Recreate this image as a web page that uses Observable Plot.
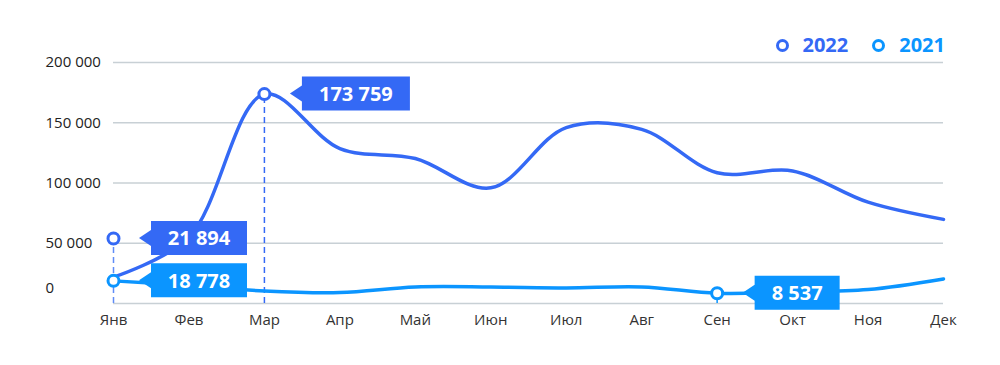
<!DOCTYPE html>
<html>
<head>
<meta charset="utf-8">
<script src="https://cdn.jsdelivr.net/npm/d3@7"></script>
<script src="https://cdn.jsdelivr.net/npm/@observablehq/plot@0.6"></script>
<style>
  html, body { margin: 0; padding: 0; background: #fff; }
  body { width: 1000px; height: 365px; position: relative; overflow: hidden; font-family: "Open Sans", sans-serif; }
  #legend { position: absolute; top: 33px; right: 55px; display: flex; align-items: center; font-weight: 700; font-size: 20px; line-height: 24px; }
  #legend .item { display: flex; align-items: center; margin-left: 24px; }
  #legend .sw { width: 7px; height: 7px; border-radius: 50%; border: 3.5px solid; margin-right: 14px; box-sizing: content-box; }
  #chart { position: absolute; left: 0; top: 0; }
</style>
</head>
<body>
<div id="chart"></div>
<div id="legend"></div>
<script>
const months = ["Янв","Фев","Мар","Апр","Май","Июн","Июл","Авг","Сен","Окт","Ноя","Дек"];
const values2022 = [21894, 55000, 173759, 128600, 120300, 96000, 146000, 144500, 108500, 110000, 84100, 69800];
const values2021 = [18778, 15000, 10400, 9100, 13700, 13700, 12900, 13700, 8537, 9600, 11600, 20400];
const seriesNames = ["2022", "2021"];
const seriesColors = ["#3469F5", "#0B95FF"];
const yTicks = [0, 50000, 100000, 150000, 200000];
const yTickLabels = ["0", "50 000", "100 000", "150 000", "200 000"];
// highlighted points (callouts)
const calloutSeries = ["2022", "2022", "2021", "2021"];
const calloutMonth = ["Мар", "Янв", "Янв", "Сен"];
const calloutValue = [173759, 54000, 18778, 8537];
const calloutLabel = ["173 759", "21 894", "18 778", "8 537"];

const colorOf = Object.fromEntries(seriesNames.map((s, i) => [s, seriesColors[i]]));
const rows = [
  ...months.map((m, i) => ({month: m, value: values2022[i], series: "2022"})),
  ...months.map((m, i) => ({month: m, value: values2021[i], series: "2021"}))
];
const callouts = calloutSeries.map((s, i) => ({series: s, month: calloutMonth[i], value: calloutValue[i], label: calloutLabel[i]}));
const yLabelRows = yTicks.map((v, i) => ({value: v, label: yTickLabels[i]}));

const canvas = document.createElement("canvas");
const ctx = canvas.getContext("2d");
ctx.font = "700 20px 'Open Sans'";

function calloutMark(index, scales) {
  const g = d3.create("svg:g");
  for (const c of callouts) {
    const px = scales.x(c.month);
    const py = scales.y(c.value);
    const tw = ctx.measureText(c.label).width;
    const w = Math.round(tw + 34);
    const h = 34;
    const left = px + 38;
    const col = colorOf[c.series];
    g.append("path")
      .attr("d", `M${left - 12},${py} L${left},${py - 8} L${left},${py - h / 2} L${left + w},${py - h / 2} L${left + w},${py + h / 2} L${left},${py + h / 2} L${left},${py + 8} Z`)
      .attr("fill", col);
    g.append("text")
      .attr("x", left + w / 2)
      .attr("y", py)
      .attr("dy", "0.36em")
      .attr("text-anchor", "middle")
      .attr("fill", "#fff")
      .attr("font-size", 20)
      .attr("font-weight", 700)
      .attr("font-family", "'Open Sans', sans-serif")
      .text(c.label);
  }
  return g.node();
}

const chart = Plot.plot({
  width: 1000,
  height: 365,
  marginLeft: 113,
  marginRight: 57,
  marginTop: 62,
  marginBottom: 62,
  style: {fontFamily: "'Open Sans', sans-serif", background: "transparent"},
  x: {type: "point", domain: months, padding: 0, round: false, axis: null},
  y: {domain: [0, 200000], axis: null},
  color: {domain: seriesNames, range: seriesColors},
  marks: [
    Plot.ruleY(yTicks, {stroke: "#c8d0d5", strokeWidth: 1.5}),
    Plot.text(yLabelRows.filter(d => d.value !== 0), {y: "value", text: "label", frameAnchor: "left", textAnchor: "start", dx: -68, fontSize: 15, fill: "#222"}),
    Plot.text(yLabelRows.filter(d => d.value === 0), {y: "value", text: "label", frameAnchor: "left", textAnchor: "start", dx: -68, dy: -15, fontSize: 15, fill: "#222"}),
    Plot.text(months, {x: d => d, text: d => d, frameAnchor: "bottom", dy: 21, fontSize: 15, fill: "#333"}),
    Plot.ruleX(callouts.filter(c => c.series === "2022" && c.month === "Янв"), {x: "month", y1: 0, y2: "value", stroke: "#5f8cf7", strokeWidth: 1.5, strokeDasharray: "6,4"}),
    Plot.ruleX(callouts.filter(c => c.month === "Мар"), {x: "month", y1: 0, y2: "value", stroke: colorOf["2022"], strokeWidth: 1.5, strokeDasharray: "6,4"}),
    Plot.ruleX(callouts.filter(c => c.month === "Сен"), {x: "month", y1: 0, y2: "value", stroke: colorOf["2021"], strokeWidth: 1.5, strokeDasharray: "6,4"}),
    Plot.line(rows, {x: "month", y: "value", z: "series", stroke: "series", strokeWidth: 3.5, curve: "catmull-rom"}),
    calloutMark,
    Plot.dot(callouts, {x: "month", y: "value", stroke: "series", fill: "#fff", r: 5.5, strokeWidth: 3})
  ]
});
document.getElementById("chart").appendChild(chart);

const legend = document.getElementById("legend");
seriesNames.forEach((s, i) => {
  const item = document.createElement("div");
  item.className = "item";
  item.style.color = seriesColors[i];
  const sw = document.createElement("span");
  sw.className = "sw";
  sw.style.borderColor = seriesColors[i];
  const t = document.createElement("span");
  t.textContent = s;
  item.appendChild(sw);
  item.appendChild(t);
  legend.appendChild(item);
});
</script>
</body>
</html>
